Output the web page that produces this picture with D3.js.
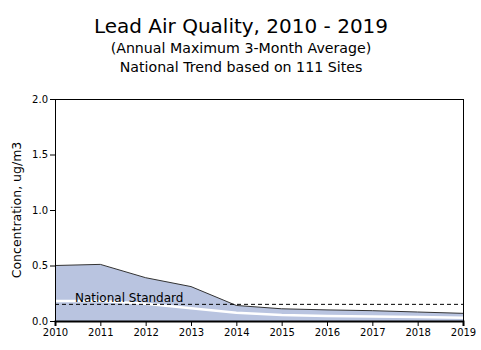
<!DOCTYPE html>
<html><head><meta charset="utf-8">
<script src="https://cdn.jsdelivr.net/npm/d3@7"></script>
<style>body{margin:0;background:#fff}svg{display:block}</style>
</head><body>
<svg id="c" width="481" height="350"></svg>
<script>
const years = [2010,2011,2012,2013,2014,2015,2016,2017,2018,2019];
const upper90 = [0.50,0.51,0.39,0.31,0.14,0.11,0.10,0.093,0.081,0.069];
const lower10 = [0,0,0,0,0,0,0,0,0,0];
const meanVals = [0.18,0.18,0.155,0.115,0.075,0.055,0.045,0.04,0.035,0.03];
const standard = 0.15;
const yTicks = [0.0,0.5,1.0,1.5,2.0];

const svg = d3.select("#c");
const m = {l:55, r:463, t:99, b:321};
const x = d3.scaleLinear().domain([2010,2019]).range([m.l, m.r]);
const y = d3.scaleLinear().domain([0,2]).range([m.b, m.t]);
const font = "DejaVu Sans";

// band
const area = d3.area().x((d,i)=>x(years[i])).y0((d,i)=>y(lower10[i])).y1(d=>y(d));
svg.append("path").datum(upper90).attr("d", area).attr("fill","#b9c4e0");
svg.append("path").datum(upper90).attr("d", d3.line().x((d,i)=>x(years[i])).y(d=>y(d)))
  .attr("fill","none").attr("stroke","#333").attr("stroke-width",1);
// mean
svg.append("path").datum(meanVals).attr("d", d3.line().x((d,i)=>x(years[i])).y(d=>y(d)))
  .attr("fill","none").attr("stroke","#fff").attr("stroke-width",2.5);
// standard
svg.append("line").attr("x1",x(2010)).attr("x2",x(2019)).attr("y1",y(standard)).attr("y2",y(standard))
  .attr("stroke","#000").attr("stroke-dasharray","4,3").attr("stroke-width",1);
svg.append("text").attr("x",75).attr("y",y(standard)-2).text("National Standard")
  .attr("font-family",font).attr("font-size",12).attr("fill","#000");

// frame
svg.append("line").attr("x1",m.l).attr("x2",m.r).attr("y1",m.t+0.5).attr("y2",m.t+0.5).attr("stroke","#000");
svg.append("line").attr("x1",m.r+0.5).attr("x2",m.r+0.5).attr("y1",m.t).attr("y2",m.b).attr("stroke","#000");

const ya = svg.append("g").attr("transform",`translate(${m.l},0)`)
  .call(d3.axisLeft(y).tickValues(yTicks).tickFormat(d3.format(".1f")).tickSize(5).tickPadding(2));
const xa = svg.append("g").attr("transform",`translate(0,${m.b})`)
  .call(d3.axisBottom(x).tickValues(years).tickFormat(d3.format("d")).tickSize(5).tickPadding(3));
[ya,xa].forEach(g=>{g.selectAll("text").attr("font-family",font).attr("font-size",10).attr("fill","#000");
  g.selectAll("line,path").attr("stroke","#000");});
xa.select(".domain").attr("stroke-width",2);

svg.append("text").attr("transform",`translate(21,${(m.t+m.b)/2}) rotate(-90)`).attr("text-anchor","middle")
  .attr("font-family",font).attr("font-size",12.5).text("Concentration, ug/m3");

svg.append("text").attr("x",241).attr("y",33).attr("text-anchor","middle").attr("font-family",font)
  .attr("font-size",20).text("Lead Air Quality, 2010 - 2019");
svg.append("text").attr("x",241).attr("y",53).attr("text-anchor","middle").attr("font-family",font)
  .attr("font-size",14.2).text("(Annual Maximum 3-Month Average)");
svg.append("text").attr("x",241).attr("y",72).attr("text-anchor","middle").attr("font-family",font)
  .attr("font-size",14.2).text("National Trend based on 111 Sites");
</script>
</body></html>
